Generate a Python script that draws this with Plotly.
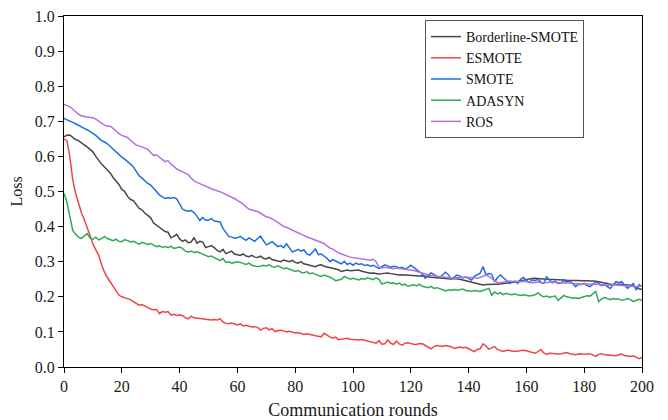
import plotly.graph_objects as go

rounds = list(range(201))

borderline_smote = [
    0.656, 0.660, 0.661, 0.655, 0.648, 0.645, 0.640, 0.633, 0.627, 0.620,
    0.613, 0.600, 0.588, 0.578, 0.570, 0.562, 0.553, 0.540, 0.530, 0.520,
    0.506, 0.500, 0.486, 0.477, 0.474, 0.462, 0.452, 0.448, 0.438, 0.432,
    0.425, 0.410, 0.404, 0.396, 0.390, 0.386, 0.384, 0.368, 0.372, 0.378,
    0.365, 0.358, 0.362, 0.354, 0.356, 0.369, 0.353, 0.358, 0.356, 0.340,
    0.343, 0.346, 0.340, 0.332, 0.328, 0.335, 0.323, 0.326, 0.330, 0.322,
    0.320, 0.318, 0.322, 0.316, 0.314, 0.318, 0.313, 0.312, 0.316, 0.310,
    0.308, 0.312, 0.306, 0.304, 0.302, 0.300, 0.305, 0.303, 0.300, 0.304,
    0.298, 0.296, 0.300, 0.294, 0.292, 0.290, 0.288, 0.286, 0.290, 0.291,
    0.287, 0.285, 0.283, 0.282, 0.280, 0.277, 0.272, 0.274, 0.276, 0.274,
    0.275, 0.277, 0.276, 0.273, 0.271, 0.269, 0.267, 0.268, 0.266, 0.265,
    0.266, 0.268, 0.268, 0.266, 0.264, 0.263, 0.262, 0.263, 0.262, 0.261,
    0.261, 0.260, 0.260, 0.259, 0.260, 0.258, 0.257, 0.256, 0.255, 0.254,
    0.253, 0.253, 0.252, 0.252, 0.251, 0.252, 0.252, 0.250, 0.248, 0.246,
    0.244, 0.243, 0.241, 0.238, 0.235, 0.234, 0.235, 0.236, 0.236, 0.236,
    0.236, 0.237, 0.237, 0.238, 0.238, 0.240, 0.242, 0.244, 0.246, 0.248,
    0.249, 0.250, 0.252, 0.253, 0.253, 0.252, 0.251, 0.250, 0.250, 0.250,
    0.249, 0.249, 0.248, 0.248, 0.247, 0.247, 0.246, 0.246, 0.245, 0.245,
    0.245, 0.246, 0.246, 0.245, 0.244, 0.243, 0.242, 0.240, 0.238, 0.236,
    0.235, 0.235, 0.236, 0.235, 0.234, 0.235, 0.233, 0.230, 0.226, 0.223,
    0.221,
]

esmote = [
    0.650, 0.645, 0.600, 0.535, 0.495, 0.465, 0.440, 0.420, 0.400, 0.375,
    0.350, 0.335, 0.318, 0.292, 0.270, 0.255, 0.242, 0.230, 0.220, 0.205,
    0.200, 0.198, 0.196, 0.192, 0.186, 0.180, 0.176, 0.178, 0.174, 0.168,
    0.165, 0.163, 0.164, 0.152, 0.158, 0.156, 0.158, 0.148, 0.150, 0.147,
    0.149, 0.146, 0.140, 0.137, 0.145, 0.140, 0.139, 0.137, 0.138, 0.136,
    0.135, 0.134, 0.135, 0.134, 0.138, 0.128, 0.125, 0.123, 0.125, 0.122,
    0.120, 0.123, 0.117, 0.119, 0.116, 0.114, 0.115, 0.113, 0.105, 0.110,
    0.112, 0.106, 0.109, 0.101, 0.104, 0.105, 0.103, 0.100, 0.102, 0.099,
    0.097, 0.098, 0.096, 0.093, 0.095, 0.094, 0.091, 0.089, 0.087, 0.086,
    0.096, 0.090, 0.086, 0.082, 0.085, 0.078, 0.079, 0.080, 0.082, 0.079,
    0.078, 0.079, 0.077, 0.078, 0.076, 0.074, 0.073, 0.072, 0.068, 0.075,
    0.065, 0.066, 0.077, 0.068, 0.064, 0.074, 0.066, 0.062, 0.068, 0.069,
    0.066, 0.065, 0.064, 0.067, 0.066, 0.061, 0.055, 0.052, 0.058, 0.061,
    0.060, 0.059, 0.061, 0.060, 0.058, 0.053, 0.055, 0.057, 0.055, 0.056,
    0.052, 0.048, 0.044, 0.050, 0.052, 0.066, 0.060, 0.051, 0.054, 0.058,
    0.050, 0.046, 0.044, 0.047, 0.048, 0.045, 0.044, 0.045, 0.047, 0.048,
    0.046, 0.044, 0.042, 0.039, 0.044, 0.050, 0.040, 0.036, 0.039, 0.038,
    0.039, 0.037, 0.038, 0.040, 0.041, 0.038, 0.036, 0.035, 0.037, 0.038,
    0.036, 0.037, 0.038, 0.034, 0.030, 0.036, 0.038, 0.035, 0.034, 0.033,
    0.034, 0.032, 0.035, 0.037, 0.033, 0.032, 0.030, 0.032, 0.027, 0.024,
    0.027,
]

smote = [
    0.708, 0.705, 0.701, 0.697, 0.693, 0.688, 0.684, 0.680, 0.676, 0.671,
    0.666, 0.660, 0.652, 0.645, 0.641, 0.636, 0.628, 0.620, 0.612, 0.604,
    0.598, 0.592, 0.586, 0.578, 0.570, 0.558, 0.545, 0.538, 0.530, 0.523,
    0.518, 0.510, 0.500, 0.490, 0.484, 0.480, 0.482, 0.481, 0.483, 0.479,
    0.465, 0.450, 0.446, 0.444, 0.446, 0.440, 0.430, 0.417, 0.426, 0.418,
    0.418, 0.423, 0.416, 0.414, 0.413, 0.395, 0.385, 0.372, 0.370, 0.367,
    0.368, 0.372, 0.366, 0.361, 0.368, 0.362, 0.358, 0.366, 0.373, 0.360,
    0.348, 0.352, 0.357, 0.350, 0.343, 0.346, 0.340, 0.351, 0.338, 0.328,
    0.331, 0.335, 0.330, 0.334, 0.322, 0.319, 0.327, 0.336, 0.320, 0.322,
    0.316, 0.310, 0.300, 0.306, 0.302, 0.297, 0.294, 0.301, 0.292, 0.296,
    0.290, 0.296, 0.292, 0.294, 0.289, 0.291, 0.287, 0.290, 0.285, 0.280,
    0.286, 0.291, 0.288, 0.284, 0.287, 0.286, 0.282, 0.284, 0.279, 0.283,
    0.290, 0.283, 0.276, 0.271, 0.265, 0.253, 0.262, 0.268, 0.264, 0.258,
    0.255, 0.262, 0.270, 0.263, 0.250, 0.256, 0.262, 0.259, 0.254, 0.257,
    0.252, 0.248, 0.258, 0.263, 0.267, 0.286, 0.262, 0.266, 0.264, 0.243,
    0.255, 0.262, 0.255, 0.247, 0.238, 0.242, 0.245, 0.238, 0.250, 0.255,
    0.246, 0.240, 0.248, 0.246, 0.250, 0.242, 0.238, 0.257, 0.248, 0.240,
    0.244, 0.238, 0.240, 0.246, 0.243, 0.245, 0.238, 0.229, 0.236, 0.235,
    0.238, 0.232, 0.229, 0.236, 0.242, 0.239, 0.232, 0.235, 0.230, 0.224,
    0.234, 0.243, 0.240, 0.243, 0.232, 0.224, 0.230, 0.238, 0.219, 0.235,
    0.229,
]

adasyn = [
    0.495, 0.470, 0.430, 0.390, 0.378, 0.370, 0.366, 0.372, 0.380, 0.368,
    0.364, 0.370, 0.362, 0.366, 0.372, 0.366, 0.363, 0.360, 0.364, 0.358,
    0.357, 0.363, 0.360, 0.356, 0.358, 0.354, 0.350, 0.355, 0.352, 0.349,
    0.352, 0.348, 0.343, 0.345, 0.341, 0.343, 0.340, 0.344, 0.338, 0.340,
    0.342, 0.338, 0.330, 0.327, 0.330, 0.326, 0.328, 0.325, 0.322, 0.318,
    0.314, 0.316, 0.312, 0.306, 0.303, 0.309, 0.298, 0.300, 0.296, 0.298,
    0.300, 0.298, 0.294, 0.292, 0.296, 0.290, 0.288, 0.286, 0.287, 0.290,
    0.288, 0.291, 0.286, 0.284, 0.288, 0.283, 0.280, 0.282, 0.278, 0.276,
    0.272, 0.275, 0.270, 0.268, 0.272, 0.266, 0.268, 0.264, 0.262, 0.258,
    0.262, 0.260, 0.256, 0.252, 0.246, 0.248, 0.250, 0.258, 0.254, 0.250,
    0.253, 0.251, 0.248, 0.252, 0.250, 0.254, 0.251, 0.249, 0.254, 0.250,
    0.236, 0.240, 0.242, 0.238, 0.240, 0.236, 0.239, 0.234, 0.236, 0.230,
    0.232, 0.234, 0.231, 0.236, 0.230, 0.228, 0.226, 0.230, 0.224, 0.226,
    0.222, 0.220, 0.217, 0.220, 0.218, 0.221, 0.219, 0.220, 0.222, 0.218,
    0.217, 0.216, 0.218, 0.216, 0.215, 0.218, 0.220, 0.224, 0.205, 0.214,
    0.208, 0.212, 0.206, 0.210, 0.207, 0.206, 0.208, 0.205, 0.204, 0.206,
    0.204, 0.202, 0.204, 0.206, 0.211, 0.204, 0.200, 0.202, 0.199, 0.200,
    0.202, 0.190, 0.198, 0.204, 0.200, 0.198, 0.196, 0.197, 0.195, 0.198,
    0.200, 0.203, 0.202, 0.208, 0.215, 0.186, 0.194, 0.198, 0.196, 0.192,
    0.195, 0.193, 0.194, 0.190, 0.192, 0.195, 0.192, 0.186, 0.190, 0.193,
    0.190,
]

ros = [
    0.748, 0.746, 0.742, 0.735, 0.728, 0.720, 0.716, 0.713, 0.712, 0.711,
    0.710, 0.706, 0.700, 0.694, 0.689, 0.686, 0.686, 0.680, 0.672, 0.665,
    0.660, 0.656, 0.654, 0.646, 0.638, 0.632, 0.630, 0.626, 0.624, 0.620,
    0.611, 0.603, 0.604, 0.598, 0.590, 0.585, 0.588, 0.578, 0.572, 0.564,
    0.560, 0.556, 0.552, 0.548, 0.538, 0.530, 0.526, 0.522, 0.520, 0.515,
    0.512, 0.508, 0.505, 0.502, 0.500, 0.496, 0.491, 0.488, 0.484, 0.480,
    0.475, 0.470, 0.464, 0.456, 0.450, 0.447, 0.446, 0.443, 0.438, 0.432,
    0.428, 0.426, 0.423, 0.418, 0.412, 0.405, 0.400, 0.398, 0.393, 0.390,
    0.386, 0.383, 0.379, 0.375, 0.371, 0.368, 0.365, 0.362, 0.360, 0.357,
    0.352, 0.345, 0.339, 0.336, 0.330, 0.325, 0.322, 0.320, 0.316, 0.313,
    0.312, 0.311, 0.310, 0.308, 0.306, 0.305, 0.304, 0.307, 0.300, 0.284,
    0.282, 0.284, 0.283, 0.281, 0.280, 0.282, 0.281, 0.279, 0.280, 0.279,
    0.277, 0.275, 0.273, 0.271, 0.268, 0.265, 0.262, 0.261, 0.259, 0.258,
    0.257, 0.256, 0.254, 0.253, 0.253, 0.252, 0.254, 0.256, 0.256, 0.255,
    0.256, 0.255, 0.254, 0.253, 0.255, 0.258, 0.262, 0.258, 0.252, 0.246,
    0.241, 0.240, 0.242, 0.244, 0.245, 0.244, 0.243, 0.242, 0.243, 0.244,
    0.242, 0.241, 0.240, 0.241, 0.242, 0.240, 0.239, 0.241, 0.242, 0.242,
    0.241, 0.240, 0.240, 0.239, 0.240, 0.239, 0.238, 0.237, 0.237, 0.236,
    0.237, 0.236, 0.237, 0.236, 0.235, 0.235, 0.234, 0.234, 0.233, 0.233,
    0.234, 0.233, 0.233, 0.232, 0.232, 0.231, 0.230, 0.230, 0.229, 0.231,
    0.230,
]

series_names = ["Borderline-SMOTE", "ESMOTE", "SMOTE", "ADASYN", "ROS"]
series_values = [borderline_smote, esmote, smote, adasyn, ros]
series_colors = ["#464646", "#f04444", "#1a6fe3", "#2ea85a", "#b270e2"]

FONT = "Liberation Serif, Times New Roman, serif"

fig = go.Figure()
for name, vals, col in zip(series_names, series_values, series_colors):
    fig.add_trace(go.Scatter(x=rounds, y=vals, mode="lines", name=name,
                             line=dict(color=col, width=1.5)))

# page body has an 8px margin, so the figure is sized to fit the 668x420 window
fig.update_layout(
    width=660, height=412,
    margin=dict(l=56, r=26, t=8, b=53, autoexpand=False),
    paper_bgcolor="white", plot_bgcolor="white",
    font=dict(family=FONT, size=16, color="#1a1a1a"),
    showlegend=True,
    legend=dict(x=0.8997, y=0.9886, xanchor="right", yanchor="top",
                bgcolor="white", bordercolor="#555", borderwidth=1,
                font=dict(family=FONT, size=14, color="#111"),
                tracegroupgap=0, itemwidth=30),
)
fig.update_xaxes(range=[0, 200], dtick=20, tick0=0, showgrid=False, zeroline=False,
                 showline=True, linecolor="black", linewidth=1, mirror=True,
                 ticks="outside", ticklen=5, tickcolor="black", automargin=False,
                 ticklabeloverflow="allow",
                 title=dict(text="Communication rounds", standoff=9,
                            font=dict(family=FONT, size=18)))
fig.update_yaxes(range=[0, 1.0], dtick=0.1, tick0=0, tickformat=".1f",
                 showgrid=False, zeroline=False,
                 showline=True, linecolor="black", linewidth=1, mirror=True,
                 ticks="outside", ticklen=5, tickcolor="black", automargin=False,
                 ticklabeloverflow="allow",
                 title=dict(text="Loss", standoff=8,
                            font=dict(family=FONT, size=16)))

fig.write_html("out.html")
